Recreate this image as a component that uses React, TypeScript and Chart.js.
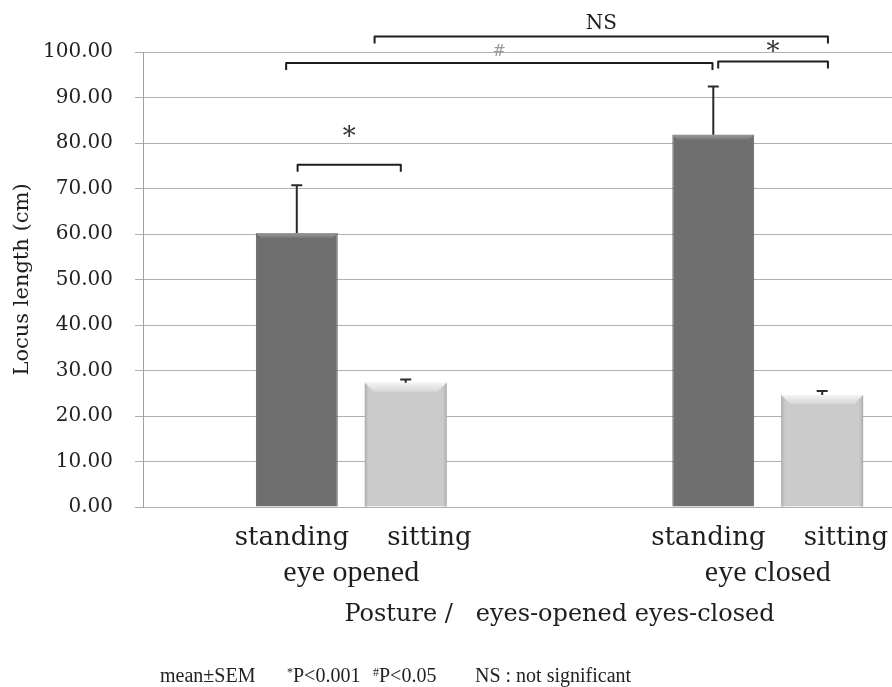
import { useEffect, useRef } from "react";
import { Chart, registerables } from "chart.js";

Chart.register(...registerables);

// Conditions (category axis) and postures (one dataset each)
const groups = ["eye opened", "eye closed"];
const postures = ["standing", "sitting"];

// Mean locus length (cm) and SEM per condition
const standingMean = [60.2, 81.8];
const sittingMean = [27.3, 24.6];
const standingSem = [10.5, 10.6];
const sittingSem = [0.7, 0.9];

// Y axis range and tick step
const yMin = 0;
const yMax = 100;
const yStep = 10;

// Significance brackets: bars are numbered 0..3 in drawing order
// (standing/opened, sitting/opened, standing/closed, sitting/closed)
const brackets = [
  { from: 0, to: 1, level: 75.2, label: "*", fromShift: 0.01, toShift: -0.06, lift: 34 },
  { from: 0, to: 2, level: 97.6, label: "#", fromShift: -0.13, toShift: -0.01, lift: 7 },
  { from: 2, to: 3, level: 97.9, label: "*", fromShift: 0.06, toShift: 0.07, lift: 16 },
  { from: 1, to: 3, level: 103.4, label: "NS", fromShift: -0.38, toShift: 0.07, lift: 8 },
];

const footnotes = [
  { text: "mean±SEM", mark: "" },
  { text: "P<0.001", mark: "*" },
  { text: "P<0.05", mark: "#" },
  { text: "NS : not significant", mark: "" },
];

const SERIF_WIDE = "'DejaVu Serif', serif";
const SERIF = "'Liberation Serif', 'Times New Roman', serif";

const barFill = ["#6e6e6e", "#cbcbcb"];
const barEdge = ["#5a5a5a", "#a9a9a9"];
// horizontal nudge of the posture names, in bar widths
const postureLabelShift = [-0.06, 0.29];

function barsInOrder(chart: Chart) {
  const out: { x: number; y: number; base: number; width: number; ds: number; idx: number }[] = [];
  for (let g = 0; g < groups.length; g++) {
    for (let d = 0; d < postures.length; d++) {
      const el: any = chart.getDatasetMeta(d).data[g];
      const p = el.getProps(["x", "y", "base", "width"], true);
      out.push({ x: p.x, y: p.y, base: p.base, width: p.width, ds: d, idx: g });
    }
  }
  return out;
}

const decorPlugin = {
  id: "decor",
  afterDatasetsDraw(chart: Chart) {
    const ctx = chart.ctx;
    const yScale = chart.scales.y;
    const bars = barsInOrder(chart);

    // bevel on bar tops and sides
    bars.forEach((b) => {
      const l = b.x - b.width / 2;
      const r = b.x + b.width / 2;
      const t = b.y;
      const bot = b.base;
      ctx.save();
      if (b.ds === 0) {
        const band = 5;
        const g = ctx.createLinearGradient(0, t, 0, t + band);
        g.addColorStop(0, "#9a9a9a");
        g.addColorStop(1, "#767676");
        ctx.fillStyle = g;
        ctx.beginPath();
        ctx.moveTo(l, t);
        ctx.lineTo(r, t);
        ctx.lineTo(r - band, t + band);
        ctx.lineTo(l + band, t + band);
        ctx.closePath();
        ctx.fill();
      } else {
        const side = 5;
        const gl = ctx.createLinearGradient(l, 0, l + side, 0);
        gl.addColorStop(0, "#aaaaaa");
        gl.addColorStop(1, "rgba(203,203,203,0)");
        ctx.fillStyle = gl;
        ctx.fillRect(l, t, side, bot - t);
        const gr = ctx.createLinearGradient(r, 0, r - side, 0);
        gr.addColorStop(0, "#aaaaaa");
        gr.addColorStop(1, "rgba(203,203,203,0)");
        ctx.fillStyle = gr;
        ctx.fillRect(r - side, t, side, bot - t);
        const band = 9;
        const g = ctx.createLinearGradient(0, t, 0, t + band);
        g.addColorStop(0, "#f4f4f4");
        g.addColorStop(1, "#d6d6d6");
        ctx.fillStyle = g;
        ctx.beginPath();
        ctx.moveTo(l, t);
        ctx.lineTo(r, t);
        ctx.lineTo(r - band, t + band);
        ctx.lineTo(l + band, t + band);
        ctx.closePath();
        ctx.fill();
      }
      ctx.restore();
    });

    // SEM error bars (upper side only)
    ctx.save();
    ctx.strokeStyle = "#2b2b2b";
    ctx.lineWidth = 2;
    bars.forEach((b) => {
      const mean = b.ds === 0 ? standingMean[b.idx] : sittingMean[b.idx];
      const sem = b.ds === 0 ? standingSem[b.idx] : sittingSem[b.idx];
      const top = yScale.getPixelForValue(mean + sem);
      ctx.beginPath();
      ctx.moveTo(b.x, b.y);
      ctx.lineTo(b.x, top);
      ctx.moveTo(b.x - 5.5, top);
      ctx.lineTo(b.x + 5.5, top);
      ctx.stroke();
    });
    ctx.restore();

    // significance brackets
    ctx.save();
    ctx.strokeStyle = "#1e1e1e";
    ctx.lineWidth = 2;
    ctx.lineJoin = "round";
    brackets.forEach((br) => {
      const a = bars[br.from];
      const c = bars[br.to];
      const x1 = a.x + br.fromShift * a.width;
      const x2 = c.x + br.toShift * c.width;
      const y = yScale.getPixelForValue(br.level);
      ctx.beginPath();
      ctx.moveTo(x1, y + 7);
      ctx.lineTo(x1, y);
      ctx.lineTo(x2, y);
      ctx.lineTo(x2, y + 7);
      ctx.stroke();
      const mid = (x1 + x2) / 2;
      ctx.textAlign = "center";
      ctx.textBaseline = "alphabetic";
      if (br.label === "*") {
        ctx.fillStyle = "#333";
        ctx.font = `26px ${SERIF_WIDE}`;
        ctx.fillText("*", mid, y - br.lift + 14);
      } else if (br.label === "#") {
        ctx.fillStyle = "#9a9a9a";
        ctx.font = `16px ${SERIF_WIDE}`;
        ctx.fillText("#", mid, y - br.lift);
      } else {
        ctx.fillStyle = "#1e1e1e";
        ctx.font = `20px ${SERIF_WIDE}`;
        ctx.fillText(br.label, mid, y - br.lift);
      }
    });
    ctx.restore();
  },
  afterDraw(chart: Chart) {
    const ctx = chart.ctx;
    const bars = barsInOrder(chart);
    ctx.save();
    // posture names under each bar
    ctx.fillStyle = "#1e1e1e";
    ctx.font = `26px ${SERIF_WIDE}`;
    ctx.textAlign = "center";
    ctx.textBaseline = "alphabetic";
    bars.forEach((b) => {
      ctx.fillText(postures[b.ds], b.x + postureLabelShift[b.ds] * b.width, 545);
    });

    // footnote line
    ctx.textAlign = "left";
    ctx.fillStyle = "#222";
    const starts = [160, 287, 373, 475];
    footnotes.forEach((f, i) => {
      let x = starts[i];
      if (f.mark) {
        ctx.font = `12px ${SERIF}`;
        ctx.fillText(f.mark, x, 676);
        x += ctx.measureText(f.mark).width;
      }
      ctx.font = `20px ${SERIF}`;
      ctx.fillText(f.text, x, 682);
    });
    ctx.restore();
  },
};

export default function App() {
  const ref = useRef<HTMLCanvasElement>(null);

  useEffect(() => {
    const canvas = ref.current;
    if (!canvas) return;
    const chart = new Chart(canvas, {
      type: "bar",
      data: {
        labels: groups,
        datasets: [
          {
            label: postures[0],
            data: standingMean,
            backgroundColor: barFill[0],
            borderColor: barEdge[0],
            borderWidth: 1,
            categoryPercentage: 0.523,
            barPercentage: 0.752,
          },
          {
            label: postures[1],
            data: sittingMean,
            backgroundColor: barFill[1],
            borderColor: barEdge[1],
            borderWidth: 1,
            categoryPercentage: 0.523,
            barPercentage: 0.752,
          },
        ],
      },
      options: {
        responsive: false,
        animation: false,
        layout: { padding: { left: 0, right: 14, top: 52, bottom: 55 } },
        plugins: {
          legend: { display: false },
          tooltip: { enabled: false },
        },
        scales: {
          x: {
            grid: { display: false },
            border: { display: false },
            ticks: {
              color: "#1e1e1e",
              font: { family: SERIF, size: 30 },
              padding: 40,
            },
            title: {
              display: true,
              text: "Posture /   eyes-opened eyes-closed",
              color: "#1e1e1e",
              font: { family: SERIF_WIDE, size: 24 },
              padding: { top: 0, bottom: 3 },
            },
            afterFit: (s: any) => {
              s.height = 125;
            },
          },
          y: {
            min: yMin,
            max: yMax,
            ticks: {
              stepSize: yStep,
              color: "#222",
              font: { family: SERIF_WIDE, size: 20 },
              padding: 22,
              callback: (v: any) => Number(v).toFixed(2),
            },
            grid: { color: "#b0b0b0", lineWidth: 1, tickLength: 8 },
            border: { color: "#a0a0a0" },
            title: {
              display: true,
              text: "Locus length (cm)",
              color: "#1e1e1e",
              font: { family: SERIF_WIDE, size: 21 },
              padding: { top: 10, bottom: 0 },
            },
            afterFit: (s: any) => {
              s.width = 143;
            },
          },
        },
      },
      plugins: [decorPlugin],
    });
    return () => chart.destroy();
  }, []);

  return (
    <div
      style={{
        position: "fixed",
        left: 0,
        top: 0,
        width: 892,
        height: 687,
        overflow: "hidden",
        background: "#fff",
      }}
    >
      <canvas ref={ref} width={990} height={687} style={{ display: "block" }} />
    </div>
  );
}
